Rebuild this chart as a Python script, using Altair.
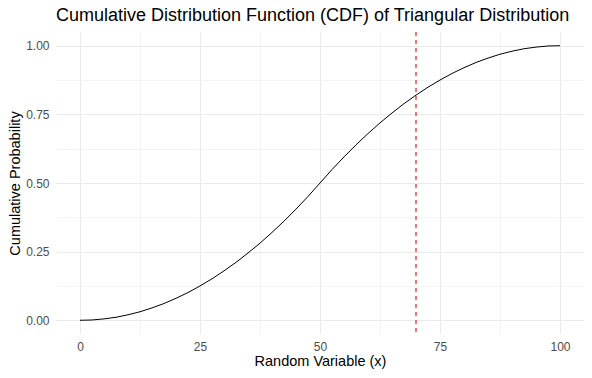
import altair as alt
import pandas as pd

# Values
x_vals = [0, 2.5, 5, 7.5, 10, 12.5, 15, 17.5, 20, 22.5, 25, 27.5, 30, 32.5, 35, 37.5,
          40, 42.5, 45, 47.5, 50, 52.5, 55, 57.5, 60, 62.5, 65, 67.5, 70, 72.5, 75,
          77.5, 80, 82.5, 85, 87.5, 90, 92.5, 95, 97.5, 100]
cdf_vals = [0.0, 0.001, 0.005, 0.011, 0.02, 0.031, 0.045, 0.061, 0.08, 0.101, 0.125,
            0.151, 0.18, 0.211, 0.245, 0.281, 0.32, 0.361, 0.405, 0.451, 0.5, 0.549,
            0.595, 0.639, 0.68, 0.719, 0.755, 0.789, 0.82, 0.849, 0.875, 0.899, 0.92,
            0.939, 0.955, 0.969, 0.98, 0.989, 0.995, 0.999, 1.0]
vline_x = [70]
x_grid = [0, 12.5, 25, 37.5, 50, 62.5, 75, 87.5, 100]
y_grid = [0, 0.125, 0.25, 0.375, 0.5, 0.625, 0.75, 0.875, 1.0]

df = pd.DataFrame({"x": x_vals, "cdf": cdf_vals})
vdf = pd.DataFrame({"x": vline_x})

xscale = alt.Scale(domain=[-5, 105], nice=False, zero=False)
yscale = alt.Scale(domain=[-0.05, 1.05], nice=False, zero=False)

font = "Liberation Sans"

x_axis = alt.Axis(
    values=x_grid,
    labelExpr="datum.value % 25 === 0 ? datum.label : ''",
    gridWidth={"condition": {"test": "datum.value % 25 === 0", "value": 1.1}, "value": 0.55},
    title="Random Variable (x)",
    labelPadding=7,
    titlePadding=2,
)
y_axis = alt.Axis(
    values=y_grid,
    format=".2f",
    labelExpr="datum.value % 0.25 === 0 ? datum.label : ''",
    gridWidth={"condition": {"test": "datum.value % 0.25 === 0", "value": 1.1}, "value": 0.55},
    title="Cumulative Probability",
    labelPadding=7,
    titlePadding=3,
)

line = alt.Chart(df).mark_line(color="black", strokeWidth=1).encode(
    x=alt.X("x:Q", scale=xscale, axis=x_axis),
    y=alt.Y("cdf:Q", scale=yscale, axis=y_axis),
)

vline = alt.Chart(vdf).mark_rule(color="#FF0000", strokeDash=[4, 4], strokeWidth=1.1).encode(
    x=alt.X("x:Q", scale=xscale, axis=x_axis),
)

chart = alt.layer(line, vline).properties(
    width=528,
    height=302,
    padding={"left": 48, "top": 24, "right": 0, "bottom": 36},
    autosize="none",
    title=alt.TitleParams(
        "Cumulative Distribution Function (CDF) of Triangular Distribution",
        font=font, fontSize=18, fontWeight="normal", color="black",
        anchor="start", frame="group", offset=6,
    ),
).configure_view(stroke=None).configure_axis(
    domain=False,
    ticks=False,
    gridColor="#ebebeb",
    labelFont=font,
    labelFontSize=12,
    labelColor="#4d4d4d",
    titleFont=font,
    titleFontSize=14.5,
    titleFontWeight="normal",
    titleColor="black",
)

chart.save("out.html", embed_options={"renderer": "svg", "actions": False})
